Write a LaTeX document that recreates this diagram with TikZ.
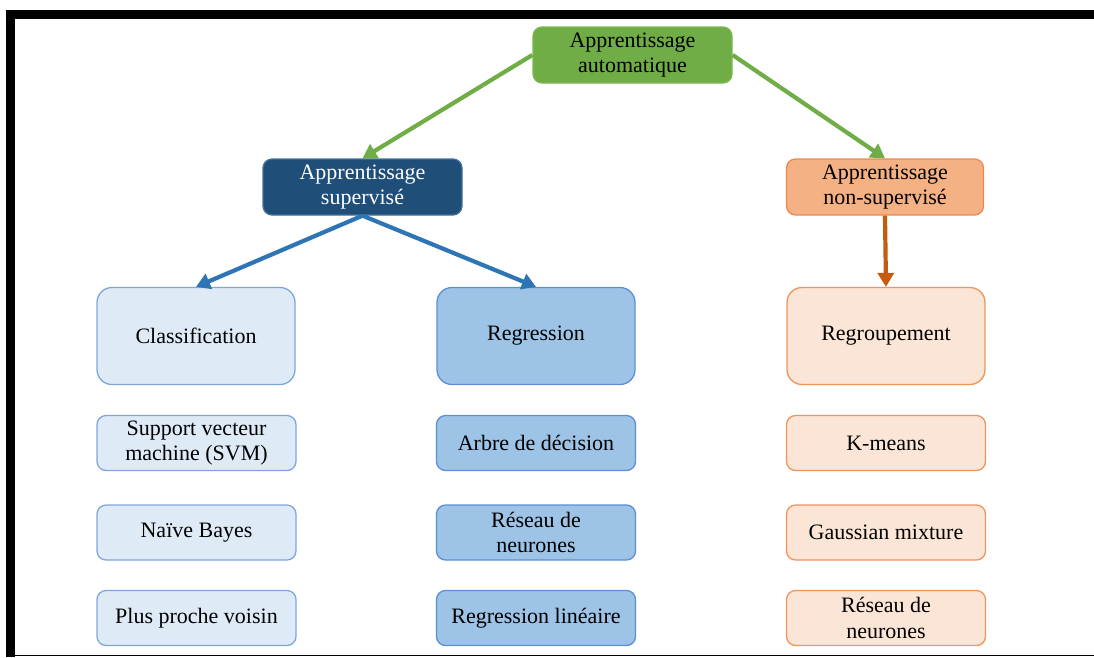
\documentclass[tikz,border=0pt]{standalone}
\usepackage{fontspec}
\setmainfont{Liberation Serif}
\usetikzlibrary{arrows.meta}

\definecolor{grfill}{HTML}{70AD47}
\definecolor{grline}{HTML}{7CB852}
\definecolor{dkblue}{HTML}{1F4E79}
\definecolor{dkblueline}{HTML}{41719C}
\definecolor{orfill}{HTML}{F4B183}
\definecolor{orline}{HTML}{E9894F}
\definecolor{orarrow}{HTML}{C55A11}
\definecolor{blarrow}{HTML}{2E75B6}
\definecolor{ltblue}{HTML}{DEEBF7}
\definecolor{ltblueline}{HTML}{7FA6DC}
\definecolor{mdblue}{HTML}{9DC3E6}
\definecolor{mdblueline}{HTML}{5B8FD5}
\definecolor{ltor}{HTML}{FBE5D6}
\definecolor{ltorline}{HTML}{EE955C}

\tikzset{
  box/.style={rounded corners=9pt, line width=1.3pt, align=center,
    inner sep=0pt, font=\fontsize{22}{25.5}\selectfont},
  head/.style={box, minimum width=199pt, minimum height=56pt},
  big/.style={box, rounded corners=15pt, minimum width=198pt, minimum height=97pt},
  small/.style={box, minimum width=199pt, minimum height=55pt},
  colA/.style={fill=ltblue, draw=ltblueline},
  colB/.style={fill=mdblue, draw=mdblueline},
  colC/.style={fill=ltor, draw=ltorline},
  link/.style={line width=4.2pt, -{Triangle[length=14pt,width=16pt]}},
}

\begin{document}
\begin{tikzpicture}[x=1pt, y=-1pt]
  \useasboundingbox (0,0) rectangle (1094,657);
  % frame
  \fill[black] (6,10) rectangle (1094,19);
  \fill[black] (6,10) rectangle (15,657);
  \draw[black, line width=1.5pt] (6,655.5) -- (1094,655.5);

  % headers
  \node[head, fill=grfill, draw=grline] (ml) at (632.5,55) {Apprentissage\\automatique};
  \node[head, fill=dkblue, draw=dkblueline, text=white] (sup) at (362.5,187) {Apprentissage\\supervisé};
  \node[head, minimum width=197pt, fill=orfill, draw=orline] (uns) at (885,187) {Apprentissage\\non-supervisé};

  % families
  \node[big, colA] (cls) at (196,336) {Classification};
  \node[big, colB] (reg) at (536,336) {Regression};
  \node[big, colC] (grp) at (886,336) {Regroupement};

  % algorithms
  \node[small, colA] (svm) at (196.5,443) {Support vecteur\\machine (SVM)};
  \node[small, colA] (nb)  at (196.5,532.5) {Naïve Bayes};
  \node[small, colA] (knn) at (196.5,618) {Plus proche voisin};

  \node[small, colB] (tree) at (536,443) {Arbre de décision};
  \node[small, colB] (nn1)  at (536,532.5) {Réseau de\\neurones};
  \node[small, colB] (lin)  at (536,618) {Regression linéaire};

  \node[small, colC] (km)  at (886,443) {K-means};
  \node[small, colC] (gm)  at (886,532.5) {Gaussian mixture};
  \node[small, colC] (nn2) at (886,618) {Réseau de\\neurones};

  % connectors
  \draw[link, grfill] (ml.west) -- (sup.north);
  \draw[link, grfill] (ml.east) -- (uns.north);
  \draw[link, blarrow] (sup.south) -- (cls.north);
  \draw[link, blarrow] (sup.south) -- (reg.north);
  \draw[link, orarrow] (uns.south) -- (grp.north);
\end{tikzpicture}
\end{document}
